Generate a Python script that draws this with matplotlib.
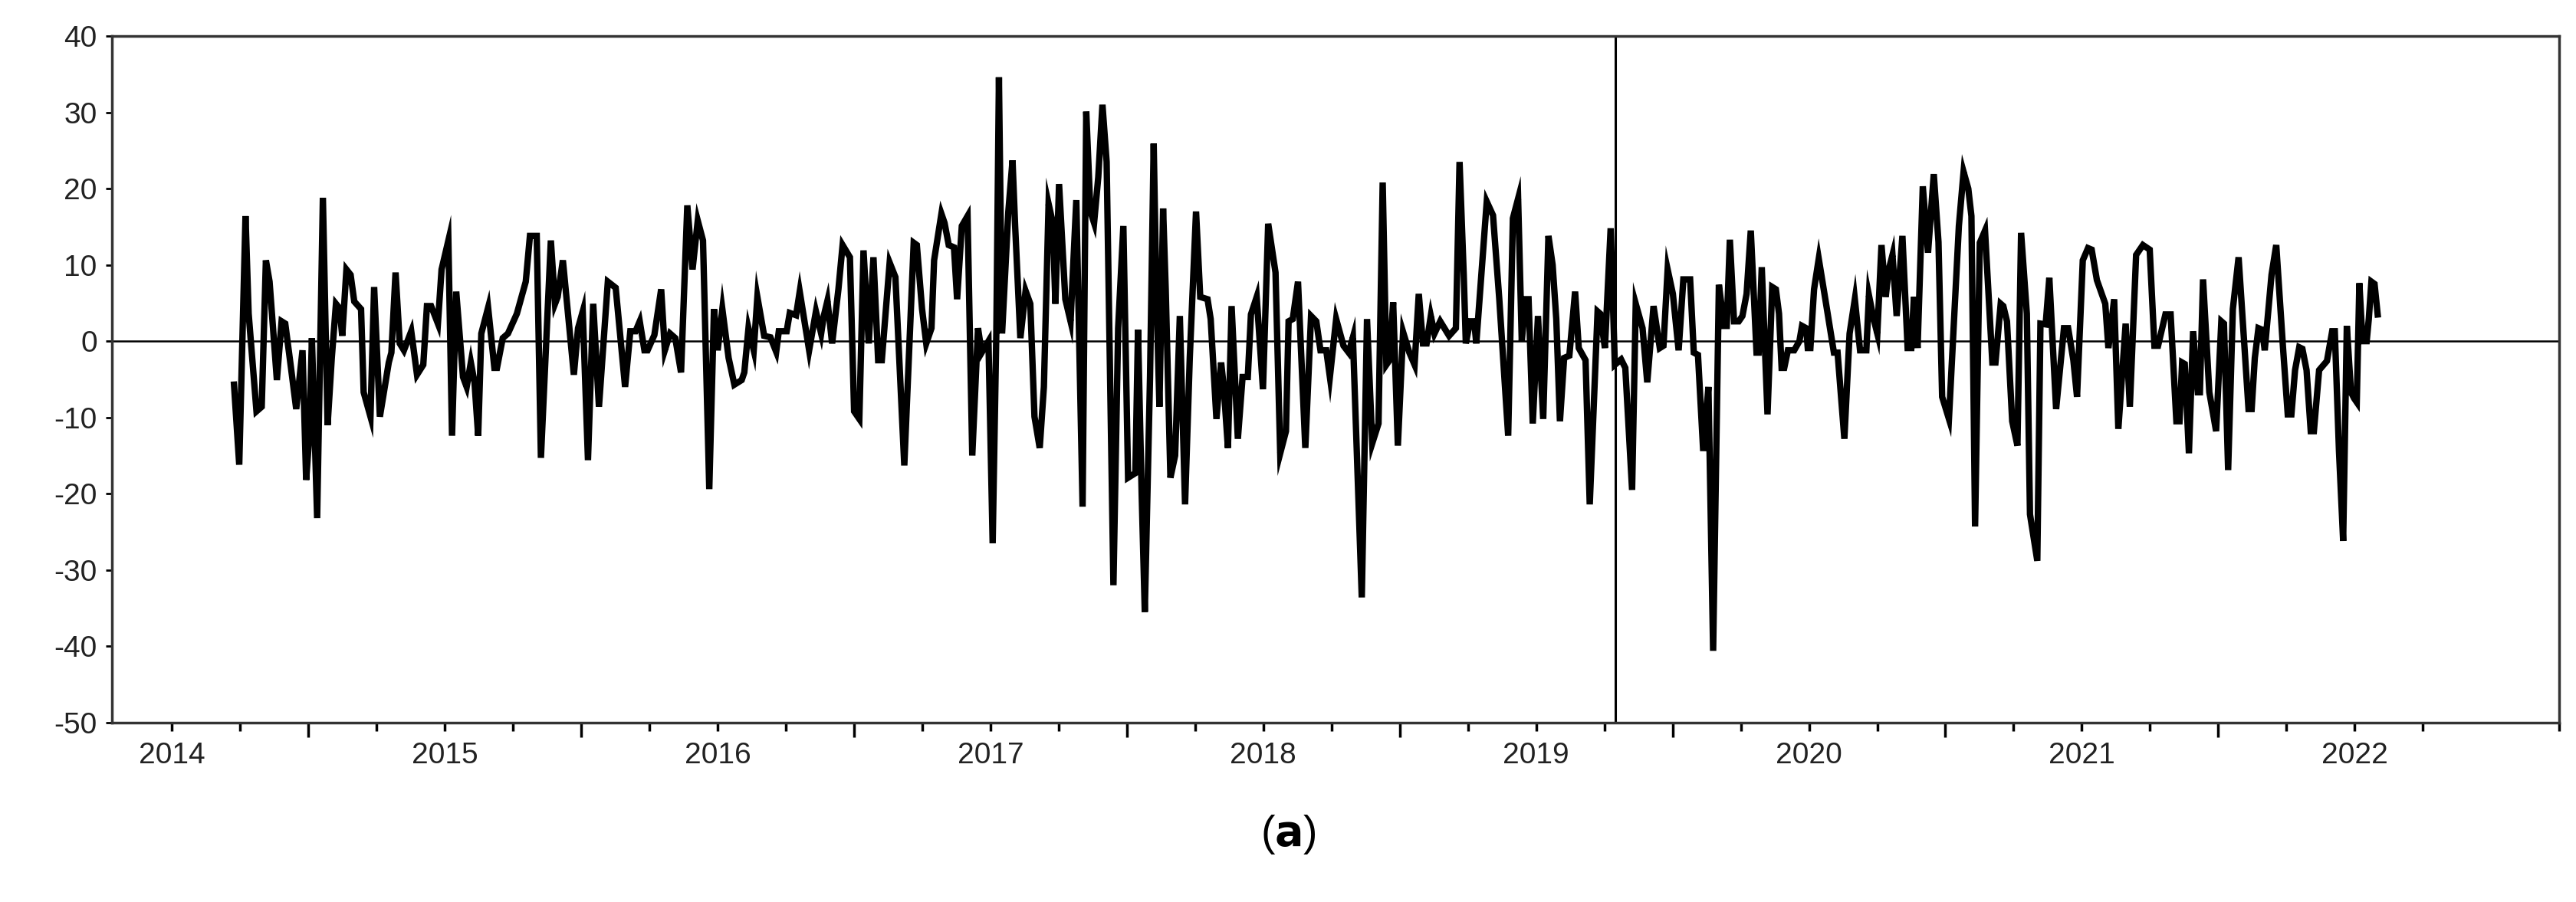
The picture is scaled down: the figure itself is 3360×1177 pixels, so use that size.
import matplotlib
matplotlib.use("Agg")
import matplotlib.pyplot as plt
import numpy as np

plt.rcParams['font.family'] = ['Liberation Sans', 'DejaVu Sans']

start_year = 2014.227
weeks = [0.0,1.0,2.2,2.8,4.3,5.3,6.1,6.8,8.2,9.1,9.8,10.9,11.9,13.1,13.8,14.4,14.9,15.9,17.0,17.9,18.7,19.5,20.2,20.7,21.5,22.3,23.0,24.3,24.8,26.1,26.8,27.9,29.6,30.1,30.9,31.7,32.5,33.9,35.0,36.2,36.9,37.7,39.0,39.7,41.0,41.7,42.5,43.8,44.5,45.3,46.0,46.7,47.3,48.6,49.8,50.3,51.4,52.4,
54.1,55.8,56.6,57.9,58.7,60.6,61.4,61.9,62.9,65.0,65.8,66.7,67.7,68.7,69.8,71.5,73.0,74.8,75.8,76.8,77.6,78.5,79.1,80.4,81.7,82.4,83.4,84.4,85.5,86.7,87.7,88.7,89.7,90.9,91.8,92.5,93.4,94.6,95.7,97.1,97.6,98.4,99.4,100.1,101.4,102.6,103.7,104.2,105.7,106.3,107.5,108.2,110.0,111.3,112.3,112.8,113.5,114.4,115.6,116.4,117.8,118.6,119.6,120.4,121.4,122.3,123.2,123.9,125.4,126.5,128.2,130.0,
130.6,131.6,132.4,133.4,133.9,135.3,135.9,136.7,137.7,138.3,139.2,140.3,141.2,142.3,143.0,144.3,145.1,145.8,146.3,146.9,148.1,148.9,149.4,150.4,151.4,152.3,153.1,154.1,154.9,155.8,156.6,157.1,157.8,159.0,160.0,161.1,162.3,163.0,163.8,164.5,165.3,166.1,166.9,168.2,169.1,170.1,171.0,172.4,172.9,173.6,174.2,175.2,175.9,176.4,177.0,177.7,178.2,179.1,180.0,180.9,181.9,182.8,184.0,184.8,186.2,186.8,187.9,188.8,189.3,190.1,190.8,192.0,192.9,193.9,194.5,195.6,196.8,197.8,199.2,200.1,201.2,201.7,202.5,203.5,204.9,206.0,207.0,207.8,
208.9,209.6,210.8,212.2,213.2,214.0,215.7,216.7,217.7,218.9,219.7,220.4,221.0,221.7,222.6,223.6,224.8,225.8,226.6,227.4,228.1,228.9,229.6,230.7,232.4,233.7,234.4,235.2,235.6,236.4,237.2,237.6,239.6,240.8,242.0,243.7,244.6,245.6,246.3,247.0,247.6,248.4,249.4,250.4,251.4,252.2,252.9,253.6,254.4,255.4,256.5,257.2,258.5,259.3,260.8,261.3,262.2,263.3,264.1,265.3,266.1,267.4,268.1,269.4,270.3,271.5,272.7,273.4,274.2,275.2,276.3,277.2,278.5,279.2,280.0,281.0,282.0,282.9,284.0,
285.0,285.5,286.1,286.9,287.8,288.5,289.3,290.1,291.2,291.6,292.2,293.3,294.2,294.9,295.5,296.0,296.5,297.2,298.4,299.4,299.9,300.7,301.0,301.5,302.2,303.1,304.5,306.0,306.7,308.0,309.0,310.0,311.0,312.2,312.7,313.6,314.3,315.1,315.9,316.5,317.2,318.0,319.1,320.1,320.8,321.3,322.0,323.0,324.0,325.1,326.0,326.7,328.0,329.9,330.8,331.7,332.3,333.0,333.9,334.9,336.3,336.9,337.9,338.4,339.1,340.1,341.1,341.8,342.9,343.5,344.9,345.5,346.5,347.2,348.5,350.0,350.8,351.8,352.5,353.6,354.6,355.3,356.3,357.9,358.5,359.6,360.4,
361.8,362.6,363.8,365.1,366.4,367.3,368.0,369.4,370.4,371.5,372.1,372.6,373.1,373.9,374.7,375.6,376.0,376.6,377.8,379.1,380.1,380.6,381.4,382.3,383.4,385.3,385.9,386.5,387.2,387.9,388.4,389.7,390.6,391.9,392.8,393.5,394.2,395.0,395.6,396.4,397.2,397.8,398.8,400.3,401.3,401.8,402.6,403.4,404.1,404.9,405.5,406.0,406.5,407.1,407.9,408.3,408.8,409.4,410.0]
values = [-5.7,-16.2,16.4,3.6,-9.2,-8.6,10.6,7.8,-5.1,2.6,2.3,-3.5,-8.9,-1.2,-18.2,-12.4,0.4,-23.2,18.8,-11,-2.2,4.9,4.3,0.7,9.4,8.7,5.2,4.2,-6.7,-9.9,7.1,-9.9,-2.8,-1.5,9.0,-0.3,-1.2,1.3,-4.4,-3.1,4.6,4.6,2.3,9.4,13.2,-12.4,6.5,-4.7,-6.0,-2.8,-5.4,-12.4,1.0,4.4,-3.5,-3.5,0.4,1.0,
3.6,7.8,13.8,13.8,-15.3,13.2,4.9,5.8,10.6,-4.4,1.7,3.9,-15.6,4.9,-8.6,7.8,7.0,-6.0,1.3,1.3,2.6,-1.2,-1.2,0.8,6.8,-1.2,1.0,0.4,-4.1,17.8,9.4,15.8,13.2,-19.4,4.2,-1.2,4.2,-2.2,-5.7,-5.1,-4.1,1.7,-1.2,5.8,0.7,0.5,-1.4,1.3,1.3,3.7,3.4,6.5,-1.2,3.9,1.0,3.3,5.3,-0.3,6.8,12.6,11,-9.2,-10.2,11.9,-0.3,11,-2.5,-2.5,10.3,8.4,-16.3,12.9,
12.6,4.2,-0.3,1.7,10.6,16.7,15.5,12.6,12.3,5.5,15.1,16.4,-15,1.7,-1.5,0,-26.5,1.0,34.6,1.0,17,23.7,15.1,0.4,6.6,4.9,-9.9,-14,-6,18,15.5,4.9,20.6,5.5,2.6,18.5,-21.7,30.1,17,15.5,21.5,31,23.5,-32,1.7,15.1,-17.9,-17.3,1.5,-20,-35.5,-4.7,25.9,6.8,-8.6,17.4,6.8,-17.9,-15,3.3,-21.4,-2.2,17,5.8,5.5,2.9,-10.2,-2.8,-6,-14,4.6,-12.8,-4.7,-4.7,3.5,5.8,-6.3,15.4,9,-14.7,-11.8,2.6,2.9,7.8,-14,3.3,2.6,-1.2,
-1.2,-4.7,2.9,-0.6,-1.5,0.5,-33.6,2.9,-13.4,-10.8,20.8,-3.1,-2.5,5.1,-13.7,1.2,-1.5,-3.1,6.2,-0.3,-0.3,3.3,1.0,2.6,0.7,1.7,23.5,8.7,-0.3,2.6,2.6,-0.3,18.3,16.5,5.5,-12.4,16.1,18.7,0,5.5,5.5,-10.8,3.3,-10.2,13.8,10,2.9,-10.5,-2.2,-1.9,6.5,-0.9,-2.5,-21.4,3.9,3.6,-0.9,14.8,-3.1,-2.4,-3.5,-19.5,4.9,1.7,-5.4,4.6,-0.9,-0.6,9.4,6.2,-1.2,8.1,8.1,-1.5,-1.8,-14.4,-6,-40.6,7.4,
2.0,2.0,13.3,2.6,2.6,3.3,6.2,14.5,-1.5,-1.5,9.7,-9.6,7.1,6.8,3.6,-3.5,-3.5,-1.2,-1.2,0,2,1.7,-0.9,-0.9,6.8,10.8,4.9,-1.5,-1.5,-12.8,1,5.5,-1.2,-1.2,6,2.9,1,12.6,5.8,9.4,11.3,3.3,13.8,-0.9,-0.9,5.8,-0.9,20.3,11.6,21.9,13,-7.3,-10.2,15.1,22.2,20,16.4,-24.3,12.9,14.5,-2.8,-2.8,4.9,4.6,2.6,-10.5,-13.7,14.2,3.6,-22.7,-28.8,2.3,2.2,8.3,-8.9,1.7,1.7,-2.5,-7.3,10.6,12.2,12,8,4.9,-0.9,5.5,-11.5,
2.3,-8.6,11.3,12.6,12,-0.6,-0.6,3.5,3.5,-10.5,-10.5,-2.8,-3,-14.7,1.3,-6.7,-6.7,8.1,-6.7,-11.8,2.6,2.3,-16.9,4.2,11,-8.9,-8.9,-2.2,1.7,1.5,-1.2,8.7,12.6,-0.9,-9.6,-9.6,-3.8,-0.8,-1,-3.8,-11.8,-11.8,-3.8,-2.6,1.3,1.3,-14.4,-26.2,2,-6.7,-7.5,-8,7.6,0,0,2.9,7.8,7.5,3.5]
break_year = 2019.29
year_labels = [2014, 2015, 2016, 2017, 2018, 2019, 2020, 2021, 2022]
y_ticks = [-50, -40, -30, -20, -10, 0, 10, 20, 30, 40]

t = start_year + np.array(weeks) / 52.18

fig = plt.figure(figsize=(33.6, 11.77), dpi=100)
ax = fig.add_axes([0.0435, 0.199, 0.95, 0.761])
ax.plot(t, values, color='black', lw=6.0, solid_joinstyle='miter')
ax.axhline(0, color='black', lw=1.8)
ax.axvline(break_year, color='black', lw=2.2)
ax.set_xlim(2013.78, 2022.46)
ax.set_ylim(-50, 40)
ax.set_yticks(y_ticks)
ax.set_yticklabels([str(v) for v in y_ticks])
ax.set_xticks([y + 0.5 for y in year_labels[:-1]])
ax.set_xticklabels([])
ax.set_xticks([y + q for y in year_labels for q in (0, 0.25, 0.75)], minor=True)
for y in year_labels:
    ax.text(y, -52.5, str(y), ha='center', va='top', fontsize=28, color='#222222')
ax.tick_params(axis='x', which='major', length=14, width=2.5, direction='out')
ax.tick_params(axis='x', which='minor', length=8, width=2.5, direction='out')
ax.tick_params(axis='y', length=6, width=2, labelsize=28, pad=8, labelcolor='#222222')
for s in ax.spines.values():
    s.set_linewidth(2.5)
    s.set_color('#333333')
fig.text(0.5, 0.075, r'($\mathbf{a}$)', ha='center', va='center', fontsize=40)
fig.savefig('out.png', dpi=100)
